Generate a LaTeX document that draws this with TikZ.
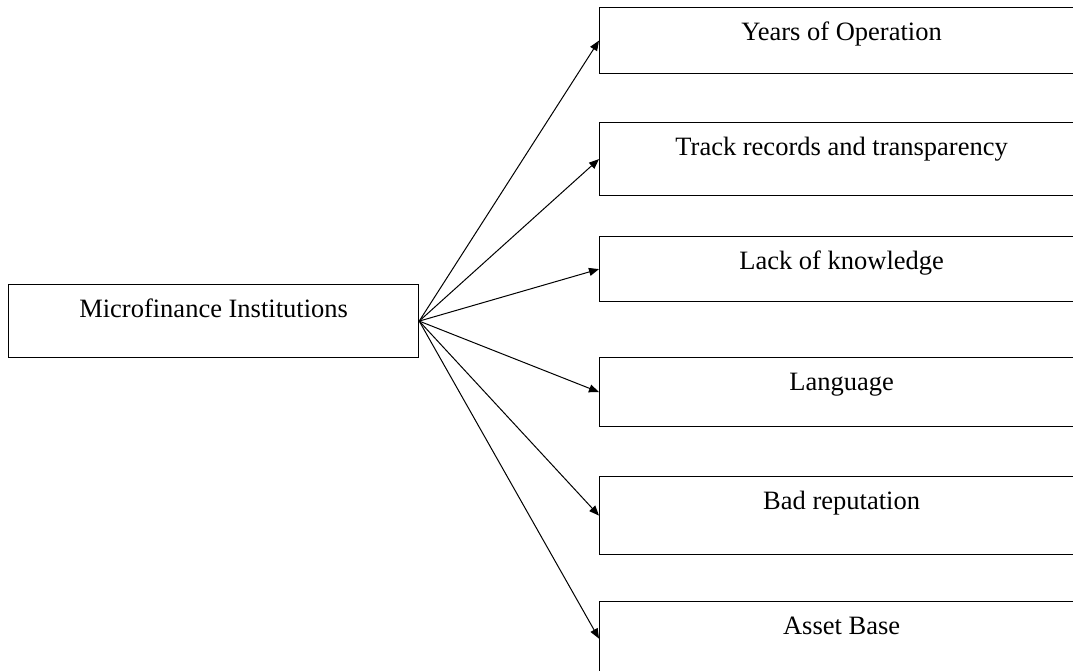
\documentclass[tikz,border=0pt]{standalone}
\usepackage{fontspec}
\setmainfont{Liberation Serif}
\usetikzlibrary{arrows.meta}

\tikzset{
    factorbox/.style={draw, line width=1.2pt, inner sep=0pt, text height=33pt, anchor=north west},
    linkarrow/.style={line width=1pt, -{Triangle[length=10pt, width=8pt]}}
}

\begin{document}
\begin{tikzpicture}[x=1pt, y=-1pt, font=\fontsize{26.5}{30}\selectfont]
        \clip (0,0) rectangle (1073,670);
        \node [factorbox, minimum width=410pt, text depth=40pt] (mfi) at (8,284) {Microfinance Institutions};
        \foreach \i/\t/\d/\txt in {1/7/33/Years of Operation, 2/122/40/Track records and transparency, 3/236/32/Lack of knowledge, 4/357/36/Language, 5/476/45/Bad reputation, 6/601/41/Asset Base}
            \node [factorbox, minimum width=484pt, text depth=\d pt] (f\i) at (599,\t) {\txt};
        \foreach \i in {1,...,6}
            \draw [linkarrow] (mfi.east) -- (f\i.west);
    \end{tikzpicture}
\end{document}
